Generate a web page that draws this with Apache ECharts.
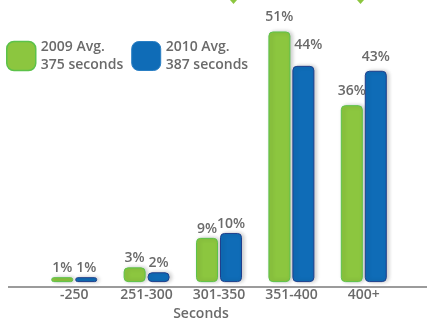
<!DOCTYPE html>
<html>
<head>
<meta charset="utf-8">
<script src="https://cdn.jsdelivr.net/npm/echarts@6/dist/echarts.min.js"></script>
<style>
  html, body { margin: 0; padding: 0; background: #fff; }
  #chart { width: 427px; height: 326px; }
</style>
</head>
<body>
<div id="chart"></div>
<script>
// Response-time buckets (seconds) and share of requests per year
const categories = ['-250', '251-300', '301-350', '351-400', '400+'];
const seriesNames = ['2009 Avg.', '2010 Avg.'];
const avgSeconds = [375, 387];
const values2009 = [1, 3, 9, 51, 36];
const values2010 = [1, 2, 10, 44, 43];

const GREEN = '#8cc63f', GREEN_EDGE = '#5cc24a';
const BLUE = '#0f6cb7', BLUE_EDGE = '#1f3f8c';
const TEXT = '#6a6a6a';
const FONT = '"Open Sans", sans-serif';

const chart = echarts.init(document.getElementById('chart'));

function barSeries(idx, values, fill, edge) {
  return {
    name: seriesNames[idx],
    type: 'bar',
    barWidth: 22,
    barGap: '9%',
    data: values.map(function (v) {
      const item = { value: v };
      // tall bars keep their labels a little further up
      if (v > 30) item.label = { distance: 7 };
      // the 2010 bar in 351-400 carries its label higher and to the right
      if (idx === 1 && v === 44) {
        item.label = { distance: 14, offset: [5, 0] };
      }
      return item;
    }),
    itemStyle: {
      color: fill,
      borderColor: edge,
      borderWidth: 1,
      borderRadius: 4,
      shadowColor: 'rgba(0,0,0,0.22)',
      shadowBlur: 4,
      shadowOffsetX: 2
    },
    label: {
      show: true,
      position: 'top',
      distance: 2,
      formatter: '{c}%',
      color: TEXT,
      fontFamily: FONT,
      fontWeight: 600,
      fontSize: 14
    }
  };
}

chart.setOption({
  animation: false,
  grid: { left: 38, right: 27, top: 0, bottom: 39 },
  legend: {
    left: 6,
    top: 38,
    padding: 0,
    icon: 'roundRect',
    itemWidth: 29,
    itemHeight: 29,
    itemGap: 8,
    data: [
      { name: seriesNames[0], itemStyle: { color: GREEN, borderColor: GREEN_EDGE, borderWidth: 1.5 } },
      { name: seriesNames[1], itemStyle: { color: BLUE, borderColor: '#2a7fc4', borderWidth: 1 } }
    ],
    formatter: function (name) {
      const i = seriesNames.indexOf(name);
      return name + '\n' + avgSeconds[i] + ' seconds';
    },
    textStyle: {
      color: TEXT,
      fontFamily: FONT,
      fontWeight: 600,
      fontSize: 14,
      lineHeight: 18
    }
  },
  xAxis: {
    type: 'category',
    data: categories,
    name: 'Seconds',
    nameLocation: 'middle',
    nameGap: 23,
    nameTextStyle: {
      color: TEXT,
      fontFamily: FONT,
      fontWeight: 600,
      fontSize: 14,
      padding: [0, 36, 0, 0]
    },
    axisLine: { show: false },
    axisTick: { show: false },
    axisLabel: {
      color: TEXT,
      fontFamily: FONT,
      fontWeight: 600,
      fontSize: 14,
      margin: 6
    }
  },
  yAxis: {
    type: 'value',
    min: 0,
    max: 57.4,
    show: false,
    splitLine: { show: false }
  },
  graphic: [
    // baseline running across the full width
    { type: 'line', shape: { x1: 8, y1: 287, x2: 427, y2: 287 },
      style: { stroke: '#7a7a7a', lineWidth: 1.5 }, z: 10 },
    // pointer tips at the top edge
    { type: 'polygon', shape: { points: [[230, 0], [237, 0], [233.5, 4]] },
      style: { fill: GREEN } },
    { type: 'polygon', shape: { points: [[357, 0], [364, 0], [360.5, 4]] },
      style: { fill: GREEN } }
  ],
  series: [
    barSeries(0, values2009, GREEN, GREEN_EDGE),
    barSeries(1, values2010, BLUE, BLUE_EDGE)
  ]
});
</script>
</body>
</html>
